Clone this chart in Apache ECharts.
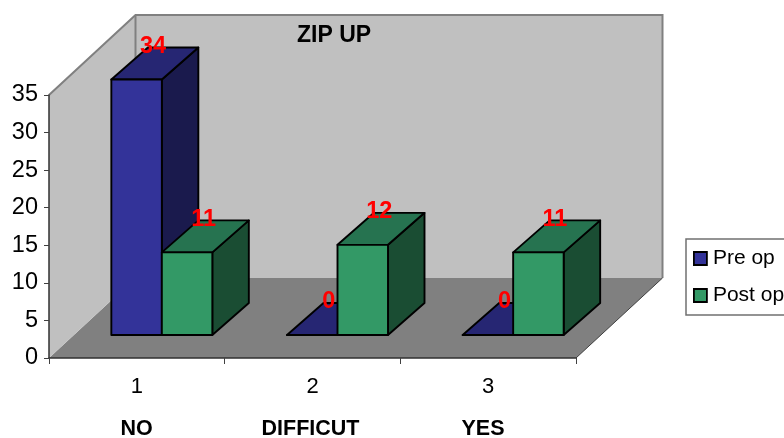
<!DOCTYPE html>
<html><head><meta charset="utf-8">
<style>html,body{margin:0;padding:0;background:#fff;overflow:hidden}#c{width:784px;height:438px}</style>
<script src="https://cdn.jsdelivr.net/npm/echarts@6/dist/echarts.min.js"></script>
</head><body><div id="c"></div>
<script>
const categories = ['1', '2', '3'];
const groupNames = ['NO', 'DIFFICUT', 'YES'];
const preOp = [34, 0, 0];
const postOp = [11, 12, 11];
const chartTitle = 'ZIP UP';
const yMax = 35, yStep = 5;

const FONT = '"Liberation Sans", Arial, sans-serif';
const WALL_DX = 86.5, WALL_DY = -80;      // depth of the whole box
const BAR_DX = 25, BAR_DY = -23;          // bar front plane within the box
const BAR_W = 50.5, DEPTH_DX = 36.5, DEPTH_DY = -32;
const LBL_DX = 16.5, LBL_DY = -33;

function barRenderer(slot, front, top, side) {
  return function (params, api) {
    const base = api.coord([api.value(0), 0]);
    const head = api.coord([api.value(0), api.value(1)]);
    const x0 = base[0] + BAR_DX + slot * BAR_W;
    const x1 = x0 + BAR_W;
    const yb = base[1] + BAR_DY;
    const yt = head[1] + BAR_DY;
    const stroke = { stroke: '#000', lineWidth: 1.9, lineJoin: 'round' };
    const poly = (pts, fill) => ({ type: 'polygon', shape: { points: pts }, style: Object.assign({ fill }, stroke) });
    return {
      type: 'group',
      children: [
        poly([[x1, yb], [x1 + DEPTH_DX, yb + DEPTH_DY], [x1 + DEPTH_DX, yt + DEPTH_DY], [x1, yt]], side),
        poly([[x0, yt], [x1, yt], [x1 + DEPTH_DX, yt + DEPTH_DY], [x0 + DEPTH_DX, yt + DEPTH_DY]], top),
        poly([[x0, yb], [x1, yb], [x1, yt], [x0, yt]], front),
        {
          type: 'text', z2: 1000,
          style: {
            x: (x0 + x1) / 2 + LBL_DX, y: yt + LBL_DY,
            text: String(api.value(1)), fill: '#ff0000',
            font: 'bold 23.5px ' + FONT, align: 'center', verticalAlign: 'middle'
          }
        }
      ]
    };
  };
}

function wallRenderer(params) {
  const g = params.coordSys;
  const L = g.x, R = g.x + g.width, T = g.y, B = g.y + g.height;
  const edge = { stroke: '#808080', lineWidth: 2, lineJoin: 'miter' };
  return {
    type: 'group',
    children: [
      { type: 'polygon', shape: { points: [[L, B], [R, B], [R + WALL_DX, B + WALL_DY], [L + WALL_DX, B + WALL_DY]] }, style: { fill: '#808080' } },
      { type: 'polygon', shape: { points: [[L, T], [L + WALL_DX, T + WALL_DY], [L + WALL_DX, B + WALL_DY], [L, B]] }, style: { fill: '#c0c0c0' } },
      { type: 'rect', shape: { x: L + WALL_DX, y: T + WALL_DY, width: g.width, height: g.height }, style: { fill: '#c0c0c0' } },
      { type: 'polyline', shape: { points: [[L, T], [L + WALL_DX, T + WALL_DY], [R + WALL_DX, T + WALL_DY], [R + WALL_DX, B + WALL_DY]] }, style: Object.assign({ fill: null }, edge) },
      { type: 'line', shape: { x1: L + WALL_DX, y1: T + WALL_DY, x2: L + WALL_DX, y2: B + WALL_DY }, style: edge },
      { type: 'line', shape: { x1: R, y1: B, x2: R + WALL_DX, y2: B + WALL_DY }, style: { stroke: '#404040', lineWidth: 1 } }
    ]
  };
}

const chart = echarts.init(document.getElementById('c'), null, { renderer: 'canvas' });
const groupX = [136.5, 310.5, 483];
chart.setOption({
  animation: false,
  backgroundColor: '#fff',
  title: { text: chartTitle, left: 297, top: 24, padding: 0, textStyle: { fontFamily: FONT, fontWeight: 'bold', fontSize: 23, color: '#000' } },
  grid: { left: 49, right: 208, top: 95, bottom: 80, containLabel: false },
  legend: {
    left: 686, top: 239, orient: 'vertical', padding: [9, 12, 9, 7], itemGap: 16,
    itemWidth: 13, itemHeight: 13, icon: 'rect',
    backgroundColor: '#fff', borderColor: '#707070', borderWidth: 1.5, borderRadius: 0,
    selectedMode: false,
    textStyle: { fontFamily: FONT, fontSize: 21, color: '#000', padding: [0, 0, 0, 1] },
    data: [
      { name: 'Pre op', itemStyle: { color: '#333399', borderColor: '#000', borderWidth: 1.8 } },
      { name: 'Post op', itemStyle: { color: '#339966', borderColor: '#000', borderWidth: 1.8 } }
    ]
  },
  xAxis: {
    type: 'category', data: categories, z: 5,
    axisLine: { lineStyle: { color: '#303030', width: 1.5 } },
    axisTick: { show: true, length: 6, lineStyle: { color: '#404040', width: 1 } },
    axisLabel: { fontFamily: FONT, fontSize: 22, color: '#000', margin: 18 }
  },
  yAxis: {
    type: 'value', min: 0, max: yMax, interval: yStep, z: 5,
    splitLine: { show: false },
    axisLine: { show: true, lineStyle: { color: '#303030', width: 1.5 } },
    axisTick: { show: true, length: 5, lineStyle: { color: '#404040', width: 1 } },
    axisLabel: { fontFamily: FONT, fontSize: 23.5, color: '#000', margin: 11, padding: [0, 0, 3, 0] }
  },
  series: [
    { type: 'custom', name: 'walls', z: 1, silent: true, renderItem: wallRenderer, data: [[0, 0]], encode: { x: 0, y: 1 } },
    { type: 'custom', name: 'Pre op', z: 2, clip: false, itemStyle: { color: '#333399' },
      renderItem: barRenderer(-1, '#333399', '#262673', '#1a1a4d'),
      data: preOp.map((v, i) => [i, v]), encode: { x: 0, y: 1 } },
    { type: 'custom', name: 'Post op', z: 2, clip: false, itemStyle: { color: '#339966' },
      renderItem: barRenderer(0, '#339966', '#267350', '#1a4d33'),
      data: postOp.map((v, i) => [i, v]), encode: { x: 0, y: 1 } }
  ],
  graphic: groupNames.map((t, i) => ({
    type: 'text', x: groupX[i], y: 429, z: 10,
    style: { text: t, fill: '#000', font: 'bold 21.5px ' + FONT, align: 'center', verticalAlign: 'middle' }
  }))
});
</script></body></html>
